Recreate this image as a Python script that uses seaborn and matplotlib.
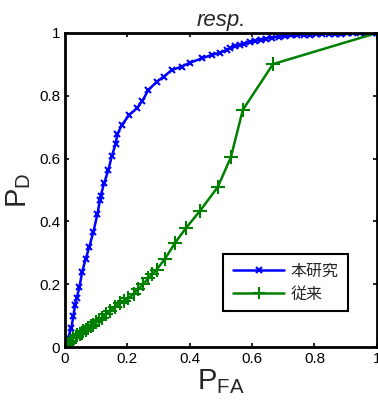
#!/usr/bin/env python3
"""ROC curve: proposed method vs conventional method."""

import matplotlib
matplotlib.use('Agg')
import matplotlib.pyplot as plt
import pandas as pd
import seaborn as sns

# Data
proposed_pfa = [0.0, 0.01, 0.02, 0.027, 0.032, 0.037, 0.046, 0.055, 0.066, 0.078,
                0.091, 0.104, 0.112, 0.114, 0.126, 0.139, 0.15, 0.162, 0.168,
                0.182, 0.206, 0.23, 0.248, 0.267, 0.294, 0.317, 0.342, 0.374,
                0.4, 0.438, 0.47, 0.497, 0.518, 0.53, 0.545, 0.56, 0.575,
                0.593, 0.61, 0.628, 0.646, 0.665, 0.685, 0.705, 0.725, 0.745,
                0.765, 0.785, 0.805, 0.825, 0.845, 0.865, 0.885, 0.905, 0.925,
                0.945, 0.965, 0.985, 1.0]
proposed_pd = [0.0, 0.03, 0.06, 0.10, 0.134, 0.155, 0.19, 0.24, 0.28, 0.32,
               0.367, 0.424, 0.468, 0.481, 0.523, 0.564, 0.608, 0.646, 0.678,
               0.707, 0.739, 0.76, 0.784, 0.818, 0.845, 0.861, 0.882, 0.893,
               0.905, 0.919, 0.93, 0.937, 0.946, 0.951, 0.957, 0.961, 0.966,
               0.971, 0.975, 0.979, 0.982, 0.985, 0.988, 0.990, 0.992, 0.993,
               0.994, 0.995, 0.996, 0.997, 0.997, 0.998, 0.998, 0.999, 0.999,
               0.999, 1.0, 1.0, 1.0]

conventional_pfa = [0.0, 0.005, 0.01, 0.015, 0.02, 0.027, 0.034, 0.04, 0.047,
                    0.053, 0.059, 0.066, 0.075, 0.083, 0.091, 0.1, 0.108,
                    0.118, 0.13, 0.144, 0.16, 0.176, 0.19, 0.203, 0.22, 0.235,
                    0.25, 0.267, 0.28, 0.294, 0.321, 0.353, 0.387, 0.433,
                    0.49, 0.532, 0.57, 0.667, 1.0]
conventional_pd = [0.0, 0.004, 0.01, 0.015, 0.02, 0.028, 0.033, 0.038, 0.042,
                   0.046, 0.05, 0.055, 0.06, 0.066, 0.072, 0.08, 0.086,
                   0.093, 0.104, 0.115, 0.128, 0.14, 0.148, 0.155, 0.17, 0.185,
                   0.2, 0.219, 0.232, 0.247, 0.282, 0.332, 0.378, 0.434,
                   0.51, 0.605, 0.755, 0.901, 1.0]

labels = ['本研究', '従来']
ticks = [0, 0.2, 0.4, 0.6, 0.8, 1]
tick_labels = ['0', '0.2', '0.4', '0.6', '0.8', '1']

sns.set_style('ticks')
plt.rcParams['font.family'] = ['Liberation Sans', 'Noto Sans CJK JP']
plt.rcParams['mathtext.fontset'] = 'custom'
plt.rcParams['mathtext.rm'] = 'Liberation Sans'
plt.rcParams['mathtext.default'] = 'regular'

fig = plt.figure(figsize=(3.78, 4.07), dpi=100)
ax = fig.add_axes([0.172, 0.147, 0.825, 0.772])

df_a = pd.DataFrame({'pfa': proposed_pfa, 'pd': proposed_pd})
df_b = pd.DataFrame({'pfa': conventional_pfa, 'pd': conventional_pd})

blue = '#0000ff'
green = '#008000'
sns.lineplot(data=df_a, x='pfa', y='pd', ax=ax, color=blue, marker='x',
             markersize=5, markeredgewidth=1.5, markeredgecolor=blue,
             linewidth=1.8, estimator=None, sort=False, label=labels[0])
sns.lineplot(data=df_b, x='pfa', y='pd', ax=ax, color=green, marker='+',
             markersize=10, markeredgewidth=1.5, markeredgecolor=green,
             linewidth=1.8, estimator=None, sort=False, label=labels[1])

ax.set_xlim(0, 1)
ax.set_ylim(0, 1)
ax.set_xticks(ticks)
ax.set_xticklabels(tick_labels)
ax.set_yticks(ticks)
ax.set_yticklabels(tick_labels)
ax.tick_params(direction='in', top=True, right=True, length=3, width=1.2,
               labelsize=11, colors='black')
for s in ax.spines.values():
    s.set_linewidth(2)
    s.set_color('black')

ax.set_xlabel(r'$P_{FA}$', fontsize=21, labelpad=1)
ax.set_ylabel(r'$P_{D}$', fontsize=21, labelpad=4)
ax.set_title('resp.', fontsize=16, style='italic', pad=5)

leg = ax.legend(loc='center', bbox_to_anchor=(0.708, 0.205), fancybox=False,
                framealpha=1, edgecolor='black', fontsize=11.5, handlelength=3.2,
                markerscale=0.8, borderpad=0.6, handletextpad=0.4)
leg.get_frame().set_linewidth(1.5)

fig.savefig('out.png', dpi=100)
